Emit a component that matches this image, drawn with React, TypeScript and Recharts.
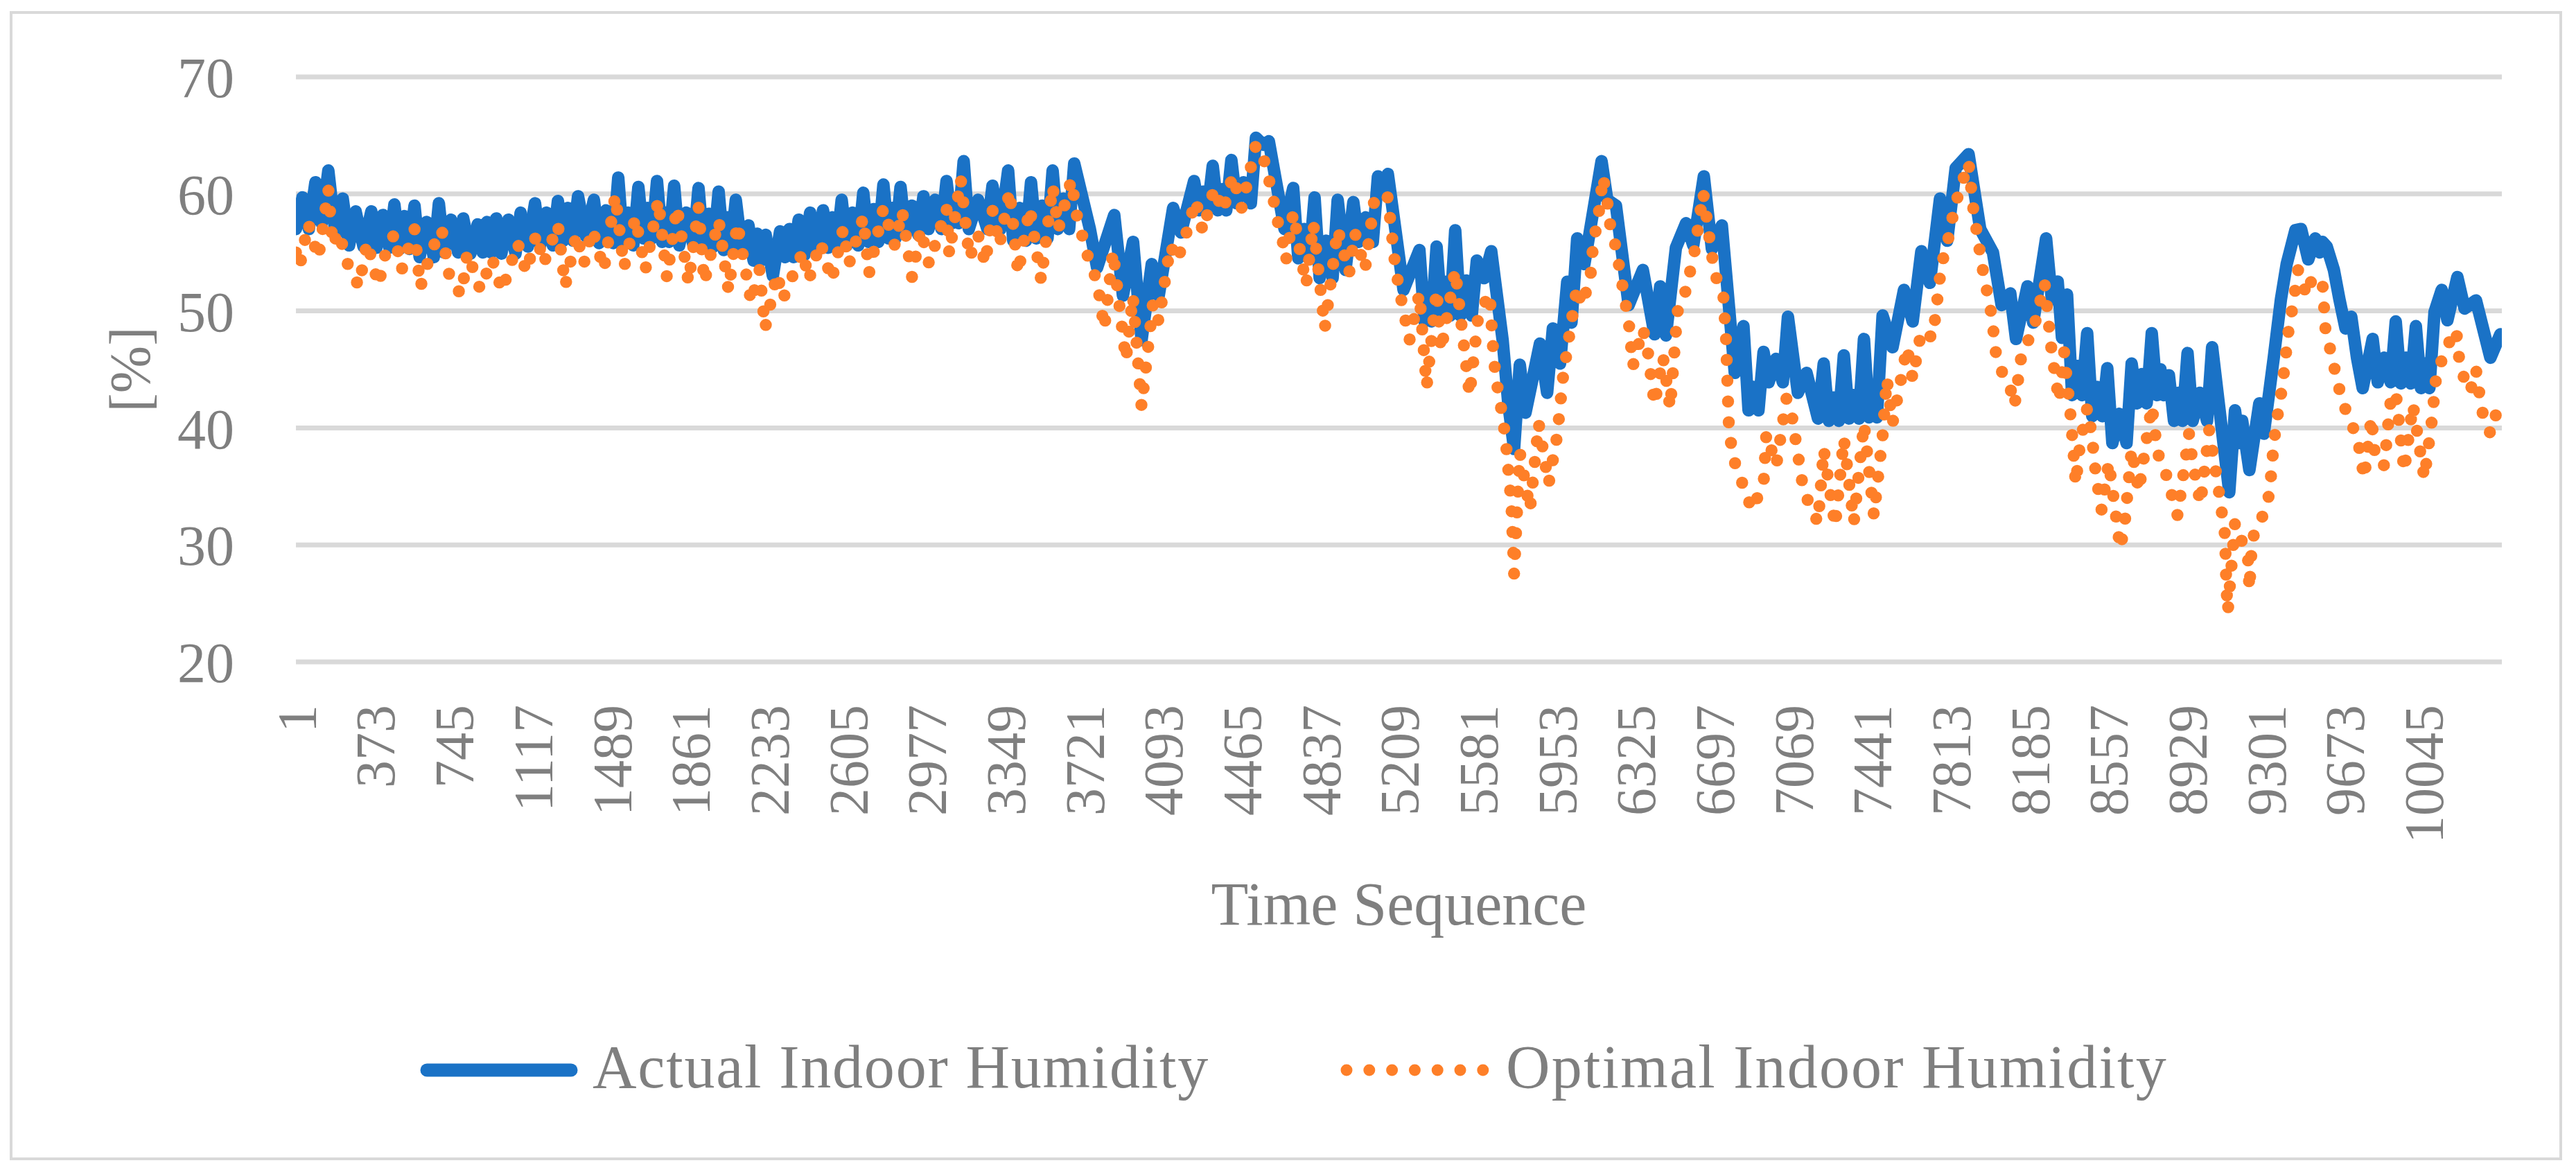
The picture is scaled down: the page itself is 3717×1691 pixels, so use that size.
import React from 'react';
import { LineChart, Line, XAxis, YAxis, CartesianGrid, Legend, Label } from 'recharts';

const SERIES_NAMES = ['Actual Indoor Humidity', 'Optimal Indoor Humidity'];
const SERIES_COLORS = ['#1a72c6', '#fe7f28'];
const X_TITLE = 'Time Sequence';
const Y_TITLE = '[%]';
const X_TICKS = [1, 373, 745, 1117, 1489, 1861, 2233, 2605, 2977, 3349, 3721, 4093, 4465, 4837, 5209, 5581, 5953, 6325, 6697, 7069, 7441, 7813, 8185, 8557, 8929, 9301, 9673, 10045];
const Y_TICKS = [20, 30, 40, 50, 60, 70];
const X_DOMAIN = [1, 10417];
const Y_DOMAIN = [20, 70];

// [time index, value]: daily peaks, the band floor and the notches between peaks
const actualReadings: [number, number][] = [
  [1, 57.0], [32, 59.7], [62, 57.0], [93, 61.0], [123, 57.5], [154, 62.0], [188, 56.5], [222, 59.6], [252, 55.6], [283, 58.5],
  [320, 55.5], [357, 58.5], [381, 55.4], [411, 58.2], [442, 55.4], [466, 59.1], [490, 55.3], [513, 58.1], [537, 55.3], [561, 59.0],
  [585, 54.6], [618, 57.6], [652, 54.6], [676, 59.2], [700, 55.0], [733, 57.8], [767, 55.0], [791, 57.9], [825, 54.9], [859, 57.4],
  [883, 55.0], [903, 57.6], [923, 55.0], [947, 57.9], [971, 54.9], [1004, 57.8], [1038, 54.9], [1062, 58.4], [1096, 55.5], [1130, 59.2],
  [1154, 55.6], [1184, 58.4], [1214, 55.6], [1238, 59.4], [1262, 56.0], [1285, 58.8], [1309, 56.0], [1333, 59.8], [1370, 56.4], [1408, 59.5],
  [1432, 55.8], [1465, 58.6], [1499, 55.8], [1523, 61.4], [1547, 55.6], [1570, 58.4], [1594, 55.6], [1618, 60.6], [1642, 56.2], [1662, 58.8],
  [1682, 56.2], [1706, 61.1], [1730, 55.9], [1746, 58.4], [1763, 55.9], [1787, 60.7], [1811, 55.6], [1844, 58.4], [1878, 55.6], [1902, 60.5],
  [1926, 55.5], [1950, 58.3], [1973, 55.5], [1997, 60.2], [2021, 55.2], [2038, 58.0], [2054, 55.2], [2078, 59.5],
  [2108, 55.0], [2138, 57.3], [2162, 54.3], [2178, 56.6], [2195, 54.3], [2219, 56.5], [2253, 53.0], [2287, 56.8], [2311, 54.6], [2331, 57.0],
  [2351, 54.6], [2375, 57.8], [2402, 54.8], [2429, 58.4], [2460, 55.1], [2490, 58.6], [2514, 55.4], [2534, 58.0], [2554, 55.4], [2578, 59.5],
  [2602, 55.6], [2629, 58.4], [2656, 55.6], [2680, 60.1], [2704, 55.9], [2728, 58.7], [2751, 55.9], [2775, 60.8], [2799, 56.2], [2816, 58.8],
  [2832, 56.2], [2856, 60.6], [2880, 56.5], [2910, 59.0], [2940, 56.5], [2964, 59.8], [2988, 57.0], [3019, 59.5], [3049, 57.0], [3073, 61.1],
  [3097, 57.5], [3113, 59.6], [3130, 57.5], [3154, 62.8], [3178, 57.0], [3222, 59.5], [3266, 57.0], [3290, 60.7], [3327, 57.0], [3364, 62.0],
  [3388, 56.0], [3418, 58.8], [3448, 56.0], [3472, 61.0], [3496, 56.2], [3523, 59.0], [3550, 56.2], [3574, 62.0], [3598, 57.0], [3625, 59.6],
  [3652, 57.0], [3676, 62.6], [3750, 57.0], [3784, 53.7], [3865, 58.2], [3906, 51.3], [3954, 55.9], [3994, 47.5], [4042, 54.0], [4075, 51.3],
  [4143, 58.8], [4180, 56.7],
  [4242, 61.1], [4266, 58.6], [4286, 60.2], [4306, 58.6], [4330, 62.4], [4354, 58.6], [4374, 60.4], [4394, 58.6], [4418, 62.9], [4442, 59.2],
  [4476, 61.0], [4510, 59.2], [4534, 64.8], [4568, 64.2], [4595, 64.5], [4669, 57.0], [4710, 60.5], [4734, 54.5], [4760, 57.0], [4787, 54.5],
  [4811, 59.7], [4835, 52.8], [4865, 56.0], [4896, 52.8], [4920, 59.5], [4957, 53.5], [4994, 59.3], [5018, 55.9], [5052, 58.0], [5086, 55.9],
  [5110, 61.5], [5135, 60.0], [5157, 61.7], [5231, 51.8], [5306, 55.2], [5330, 49.1], [5346, 52.0], [5363, 49.1], [5387, 55.5], [5411, 49.6],
  [5431, 52.5], [5451, 49.6], [5475, 56.9], [5499, 49.6], [5526, 52.6], [5553, 49.6], [5577, 54.3], [5611, 52.8], [5645, 55.1], [5699, 47.5],
  [5726, 42.0], [5753, 38.2], [5780, 45.4], [5807, 41.3], [5875, 47.2], [5909, 43.0], [5936, 48.5], [5970, 45.5], [6004, 52.5], [6024, 49.0],
  [6051, 56.2], [6085, 54.0], [6166, 62.8], [6193, 59.5], [6234, 59.0],
  [6294, 50.5], [6361, 53.5], [6416, 48.0], [6443, 52.1], [6470, 47.9], [6517, 55.4], [6565, 57.5], [6599, 55.6], [6649, 61.5], [6687, 55.3],
  [6734, 57.3], [6795, 44.7], [6836, 48.7], [6860, 41.5], [6883, 43.5], [6907, 41.5], [6931, 46.5], [6955, 43.9], [6990, 45.9], [7022, 43.9],
  [7046, 49.5], [7093, 43.0], [7134, 44.7], [7188, 40.8], [7215, 45.5], [7239, 40.6], [7262, 42.6], [7286, 40.6], [7310, 46.2], [7334, 40.8],
  [7357, 42.8], [7381, 40.8], [7405, 47.6], [7429, 40.9], [7447, 42.9], [7466, 40.9], [7493, 49.6], [7540, 46.9], [7594, 51.8], [7635, 49.1],
  [7676, 55.1], [7716, 52.4], [7764, 59.6], [7798, 56.0], [7838, 62.2], [7899, 63.4], [7954, 57.0], [8014, 55.0], [8055, 50.5], [8096, 51.5],
  [8123, 47.6], [8177, 52.1], [8204, 49.0], [8265, 56.2], [8292, 51.0], [8320, 52.5], [8340, 47.7],
  [8364, 51.4], [8388, 42.8], [8412, 45.3], [8435, 42.8], [8459, 48.1], [8483, 41.0], [8507, 43.5], [8530, 41.0], [8554, 45.1], [8578, 38.7],
  [8611, 41.2], [8645, 38.7], [8669, 45.5], [8693, 42.1], [8717, 44.6], [8740, 42.1], [8764, 48.1], [8788, 42.8], [8805, 45.0], [8821, 42.8],
  [8845, 44.5], [8869, 40.6], [8889, 43.0], [8909, 40.6], [8933, 46.4], [8957, 40.6], [8991, 43.0], [9025, 40.6], [9049, 46.9], [9130, 34.5],
  [9157, 41.5], [9177, 38.7], [9191, 40.6], [9225, 36.4], [9272, 42.1], [9293, 39.5], [9340, 46.0], [9374, 51.0], [9401, 54.0], [9442, 56.9],
  [9469, 57.0], [9503, 54.4], [9536, 56.2], [9557, 55.0], [9570, 55.9], [9590, 55.5], [9624, 53.5], [9650, 51.0], [9679, 48.5], [9706, 49.5],
  [9733, 46.0], [9760, 43.4], [9807, 47.6], [9831, 43.9], [9862, 46.0], [9892, 43.9], [9916, 49.1], [9940, 43.8], [9964, 46.0], [9987, 43.8],
  [10011, 48.7], [10035, 43.4], [10055, 45.5], [10075, 43.4], [10099, 49.9], [10133, 51.8], [10160, 49.2], [10207, 52.9], [10241, 50.2], [10295, 50.9],
  [10363, 46.0], [10410, 48.0],
];

const optimalReadings: [number, number][] = [
  [1, 55.0], [19, 53.8], [59, 57.5], [107, 54.5], [154, 60.4], [174, 55.6], [202, 56.8], [249, 53.8], [299, 52.1], [337, 55.9],
  [391, 52.2], [425, 55.0], [466, 56.6], [500, 53.5], [561, 57.0], [588, 52.0], [642, 55.2], [689, 57.0], [730, 52.5], [784, 51.4],
  [810, 55.0], [845, 53.2], [872, 51.8], [927, 54.5], [974, 51.7], [1048, 55.8], [1089, 53.3], [1137, 56.6], [1170, 54.0], [1238, 57.4],
  [1272, 52.1], [1326, 56.6], [1360, 54.0], [1401, 57.0], [1455, 53.5], [1509, 59.9], [1550, 53.7], [1604, 58.0], [1651, 53.5], [1712, 59.5],
  [1753, 52.8], [1800, 58.9], [1855, 52.4], [1902, 58.9], [1929, 52.4], [1997, 57.8], [2044, 51.7], [2085, 57.5],
  [2151, 50.7], [2190, 53.5], [2216, 48.5], [2273, 53.2], [2300, 51.0], [2395, 55.1], [2422, 52.6], [2477, 55.9], [2531, 52.6], [2585, 57.0],
  [2612, 54.0], [2680, 58.0], [2707, 53.2], [2775, 58.8], [2829, 55.6], [2863, 58.6], [2910, 52.9], [2951, 57.0], [2991, 54.0], [3073, 58.8],
  [3086, 54.8], [3140, 61.3], [3181, 54.5], [3222, 56.5], [3256, 54.0], [3290, 58.6], [3323, 55.6], [3371, 60.3], [3411, 53.2], [3466, 58.8],
  [3520, 52.6], [3574, 60.7], [3601, 57.0], [3662, 61.2], [3689, 58.1], [3750, 54.0], [3784, 52.6], [3818, 48.5], [3859, 55.1], [3920, 45.8],
  [3953, 51.3], [3994, 41.8], [4048, 50.7], [4075, 49.1], [4130, 55.6], [4163, 54.3],
  [4215, 57.2], [4249, 59.5], [4283, 56.8], [4337, 60.5], [4378, 58.5], [4425, 61.6], [4466, 58.8], [4534, 64.2], [4568, 63.2], [4608, 60.3],
  [4635, 57.8], [4662, 55.8], [4676, 54.3], [4710, 58.4], [4771, 52.2], [4805, 57.5], [4859, 48.5], [4920, 57.0], [4974, 53.2], [5001, 56.7],
  [5049, 53.5], [5096, 59.9], [5157, 59.7], [5171, 57.3], [5191, 54.0], [5211, 51.8], [5259, 47.5], [5306, 51.5], [5340, 43.5], [5387, 51.8],
  [5408, 46.6], [5475, 53.5], [5543, 42.8], [5584, 49.6], [5638, 51.5], [5652, 47.2], [5665, 44.5], [5699, 40.9], [5713, 39.0], [5740, 33.5],
  [5753, 27.5], [5780, 37.9], [5828, 33.0], [5869, 40.4], [5916, 35.2], [5957, 39.4], [5983, 44.2], [6017, 48.3], [6051, 52.1], [6071, 50.5],
  [6112, 52.6], [6126, 55.6], [6153, 58.4], [6173, 61.5], [6194, 59.2], [6207, 57.3], [6234, 55.4], [6268, 51.8],
  [6294, 49.1], [6314, 45.3], [6361, 48.5], [6382, 46.9], [6416, 42.0], [6456, 46.1], [6490, 41.7], [6524, 49.9], [6565, 51.8], [6605, 55.1],
  [6646, 60.1], [6673, 56.5], [6700, 53.2], [6741, 51.3], [6754, 47.5], [6761, 43.4], [6768, 39.8], [6788, 37.4], [6876, 33.0], [6931, 35.2],
  [6944, 39.5], [6991, 36.8], [7039, 42.5], [7066, 40.9], [7120, 34.6], [7188, 31.9], [7215, 38.2], [7269, 31.6], [7310, 39.1], [7357, 31.9],
  [7405, 40.4], [7452, 32.5], [7493, 39.3], [7513, 44.2], [7540, 40.4], [7574, 43.6], [7608, 46.9], [7635, 44.2], [7676, 48.3], [7730, 47.7],
  [7757, 51.8], [7771, 54.0], [7798, 55.6], [7811, 57.0], [7838, 59.2], [7899, 62.7], [7920, 58.9], [7940, 56.5], [7961, 54.0], [7988, 51.5],
  [8008, 49.6], [8028, 46.4], [8062, 44.5], [8096, 43.4], [8116, 41.9], [8150, 46.4], [8204, 48.3], [8258, 52.4], [8272, 49.9], [8292, 46.4],
  [8326, 42.3],
  [8350, 46.5], [8364, 44.0], [8378, 41.6], [8391, 38.7], [8405, 35.2], [8425, 38.6], [8459, 41.7], [8480, 39.5], [8500, 36.0], [8527, 33.0],
  [8561, 37.1], [8581, 34.4], [8615, 29.7], [8635, 31.6], [8669, 38.2], [8703, 34.6], [8737, 38.7], [8764, 41.9], [8791, 37.9], [8832, 36.0],
  [8886, 32.5], [8940, 39.5], [8954, 37.4], [8994, 33.5], [9035, 39.8], [9076, 35.2], [9110, 30.8], [9116, 26.5], [9123, 24.3], [9157, 31.9],
  [9218, 28.9], [9225, 26.2], [9238, 30.5], [9293, 32.7], [9320, 34.4], [9340, 38.7], [9354, 40.6], [9381, 43.6], [9401, 46.9], [9415, 49.1],
  [9428, 50.2], [9455, 53.5], [9496, 51.3], [9523, 52.9], [9570, 52.4], [9577, 50.5], [9584, 48.5], [9618, 45.8], [9645, 43.6], [9685, 41.2],
  [9713, 40.1], [9740, 38.7], [9767, 35.7], [9801, 40.9], [9821, 37.1], [9862, 36.8], [9889, 42.0], [9916, 43.1], [9956, 36.3], [9997, 42.0],
  [10051, 35.7], [10085, 40.4], [10106, 44.2], [10147, 46.6], [10201, 48.4], [10221, 45.0], [10268, 43.1], [10295, 45.0], [10322, 41.5], [10363, 39.5],
  [10390, 41.2], [10404, 40.1],
];

const W = 3717;
const H = 1691;
const FONT = '"Liberation Serif", "Times New Roman", serif';
const TEXT = '#7f7f7f';
const GRID = '#d9d9d9';

const actualData = actualReadings.map(([t, v]) => ({ t, v }));
const optimalData = optimalReadings.map(([t, v]) => ({ t, v }));

function XTick(props: any) {
  const { x, y, payload } = props;
  return (
    <text
      x={x}
      y={y}
      transform={`rotate(-90 ${x} ${y})`}
      textAnchor="end"
      dy="0.36em"
      fill={TEXT}
      fontSize={80}
      fontFamily={FONT}
    >
      {payload.value}
    </text>
  );
}

function YTitle(props: any) {
  const vb = props.viewBox || { x: 0, y: 111, width: 427, height: 844 };
  const cx = 187;
  const cy = vb.y + vb.height / 2;
  return (
    <text
      x={cx}
      y={cy}
      transform={`rotate(-90 ${cx} ${cy})`}
      textAnchor="middle"
      dominantBaseline="central"
      fill={TEXT}
      fontSize={82}
      fontFamily={FONT}
    >
      {Y_TITLE}
    </text>
  );
}

function XTitle(props: any) {
  const vb = props.viewBox || { x: 427, y: 955, width: 3183, height: 300 };
  const cx = vb.x + vb.width / 2;
  const cy = vb.y + 379;
  return (
    <text x={cx} y={cy} textAnchor="middle" fill={TEXT} fontSize={88} fontFamily={FONT}>
      {X_TITLE}
    </text>
  );
}

function LegendContent() {
  return (
    <svg width={W} height={100} style={{ display: 'block', overflow: 'visible' }}>
      <line x1={616} y1={50} x2={824} y2={50} stroke={SERIES_COLORS[0]} strokeWidth={19} strokeLinecap="round" />
      <text x={855} y={75} fill={TEXT} fontSize={88} fontFamily={FONT} letterSpacing={1.8}>
        {SERIES_NAMES[0]}
      </text>
      <line
        x1={1943}
        y1={50}
        x2={2140}
        y2={50}
        stroke={SERIES_COLORS[1]}
        strokeWidth={17}
        strokeLinecap="round"
        strokeDasharray="0 32.8"
      />
      <text x={2173} y={75} fill={TEXT} fontSize={88} fontFamily={FONT} letterSpacing={2.2}>
        {SERIES_NAMES[1]}
      </text>
    </svg>
  );
}

export default function App() {
  return (
    <div style={{ position: 'absolute', left: 0, top: 0, width: W, height: H, background: '#ffffff', overflow: 'hidden' }}>
      <div
        style={{
          position: 'absolute',
          left: 14,
          top: 16,
          width: 3683,
          height: 1658,
          border: `4px solid ${GRID}`,
          boxSizing: 'border-box',
        }}
      />
      <div style={{ position: 'absolute', left: 0, top: 0 }}>
        <LineChart width={W} height={H} margin={{ top: 111, right: 107, bottom: 436, left: 0 }}>
          <CartesianGrid vertical={false} stroke={GRID} strokeWidth={7} />
          <XAxis
            type="number"
            dataKey="t"
            domain={X_DOMAIN}
            ticks={X_TICKS}
            interval={0}
            allowDataOverflow
            axisLine={false}
            tickLine={false}
            tickSize={0}
            tickMargin={62}
            height={300}
            tick={<XTick />}
          >
            <Label content={<XTitle />} />
          </XAxis>
          <YAxis
            type="number"
            domain={Y_DOMAIN}
            ticks={Y_TICKS}
            interval={0}
            allowDataOverflow
            axisLine={false}
            tickLine={false}
            tickSize={0}
            tickMargin={89}
            width={427}
            tick={{ fill: TEXT, fontSize: 82, fontFamily: FONT }}
          >
            <Label content={<YTitle />} />
          </YAxis>
          <Legend
            layout="horizontal"
            verticalAlign="middle"
            align="center"
            wrapperStyle={{ left: 0, top: 1494, width: W, height: 100 }}
            content={<LegendContent />}
          />
          <Line
            data={actualData}
            dataKey="v"
            name={SERIES_NAMES[0]}
            type="linear"
            stroke={SERIES_COLORS[0]}
            strokeWidth={18}
            strokeLinejoin="round"
            strokeLinecap="round"
            dot={false}
            activeDot={false}
            isAnimationActive={false}
          />
          <Line
            data={optimalData}
            dataKey="v"
            name={SERIES_NAMES[1]}
            type="linear"
            stroke={SERIES_COLORS[1]}
            strokeWidth={17.5}
            strokeLinecap="round"
            strokeDasharray="0 30"
            dot={false}
            activeDot={false}
            isAnimationActive={false}
          />
        </LineChart>
      </div>
    </div>
  );
}
